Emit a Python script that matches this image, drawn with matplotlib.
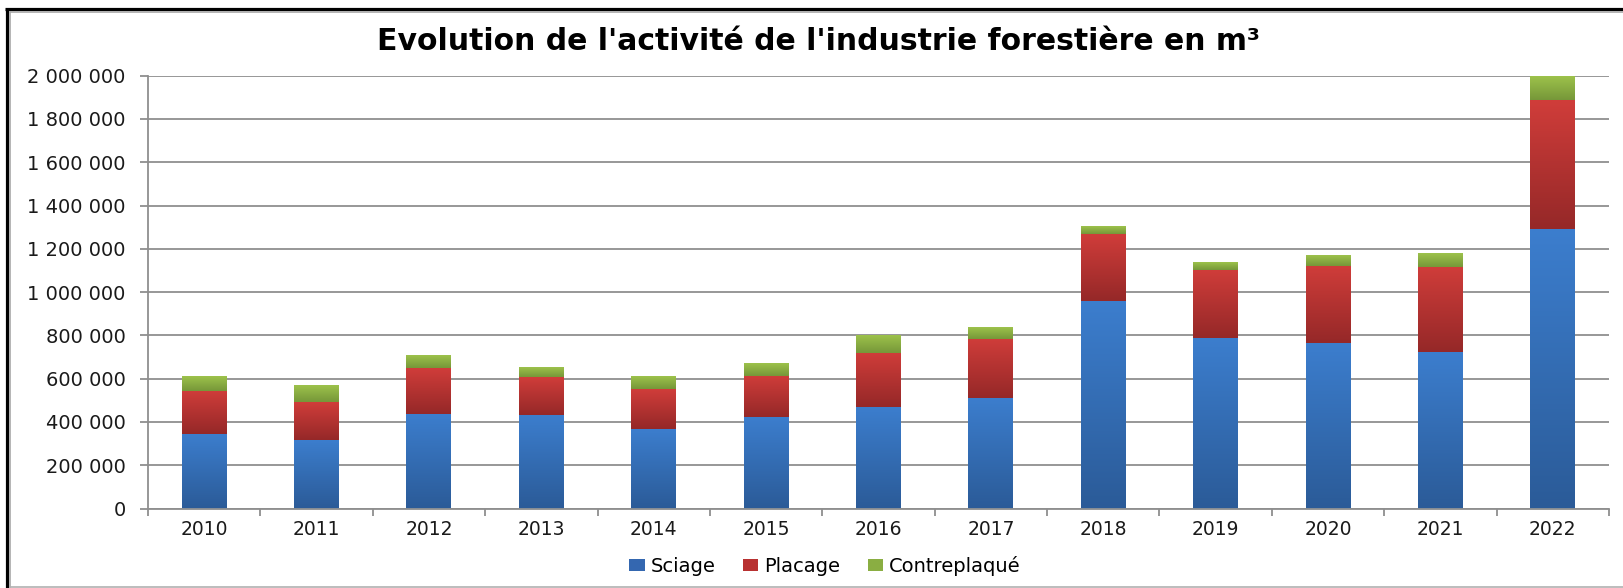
import matplotlib
matplotlib.use("Agg")
import matplotlib.pyplot as plt
import numpy as np
from matplotlib.colors import LinearSegmentedColormap
from matplotlib.lines import Line2D
from matplotlib.patches import Patch
from matplotlib.ticker import FuncFormatter, FixedLocator

years = ["2010", "2011", "2012", "2013", "2014", "2015", "2016",
         "2017", "2018", "2019", "2020", "2021", "2022"]
sciage = [345000, 317000, 437000, 433000, 369000, 421000, 468000,
          510000, 961000, 787000, 764000, 724000, 1292000]
placage = [199000, 174000, 211000, 174000, 181000, 193000, 251000,
           273000, 308000, 315000, 358000, 394000, 596000]
contreplaque = [69000, 76000, 57000, 46000, 59000, 59000, 79000,
                52000, 33000, 33000, 47000, 63000, 107000]
series_names = ["Sciage", "Placage", "Contreplaqué"]
title = "Evolution de l'activité de l'industrie forestière en m³"

# (bottom colour, top colour, legend colour)
styles = [("#2b5b98", "#3c7ece", "#3467b0"),
          ("#952828", "#d03d3a", "#b83131"),
          ("#769739", "#9dc24b", "#8aae42")]

plt.rcParams['font.family'] = ['DejaVu Sans']

W, H = 1623, 588
fig = plt.figure(figsize=(W / 100, H / 100), dpi=100)
ax = fig.add_axes([148 / W, (H - 508.5) / H, (1609 - 148) / W, (508.5 - 75.7) / H])

x = np.arange(len(years))
bottoms = np.zeros(len(years))
grad = np.linspace(0, 1, 256).reshape(-1, 1)
for vals, (c0, c1, _) in zip([sciage, placage, contreplaque], styles):
    bars = ax.bar(x, vals, width=0.4, bottom=bottoms, color=c1, zorder=2, linewidth=0)
    cmap = LinearSegmentedColormap.from_list("g", [c0, c1])
    for r in bars:
        x0, y0 = r.get_x(), r.get_y()
        ax.imshow(grad, extent=(x0, x0 + r.get_width(), y0, y0 + r.get_height()),
                  origin="lower", aspect="auto", cmap=cmap, zorder=2.1,
                  interpolation="bilinear")
    bottoms += np.array(vals)

ax.set_xlim(-0.5, len(years) - 0.5)
ax.set_ylim(0, 2000000)
ax.set_axisbelow(True)

grid_c = "#8f8f8f"
ax.yaxis.set_major_locator(FixedLocator(np.arange(0, 2000001, 200000)))
ax.yaxis.set_major_formatter(FuncFormatter(lambda v, p: f"{int(v):,}".replace(",", " ")))
ax.grid(axis="y", color=grid_c, linewidth=1.3, zorder=0)
for s in ["top", "right"]:
    ax.spines[s].set_visible(False)
ax.spines["left"].set_color(grid_c)
ax.spines["bottom"].set_color(grid_c)
ax.spines["left"].set_linewidth(1.3)
ax.spines["bottom"].set_linewidth(1.3)

ax.set_xticks(x)
ax.set_xticklabels(years)
ax.set_xticks(np.arange(-0.5, len(years), 1), minor=True)
ax.tick_params(axis="x", which="major", length=0, pad=8.5, labelsize=13.5, labelcolor="#1a1a1a")
ax.tick_params(axis="x", which="minor", length=5, width=1.3, color=grid_c)
ax.tick_params(axis="y", length=6, width=1.3, color=grid_c, pad=10, labelsize=14,
               labelcolor="#1a1a1a")

fig.text(819 / W, 1 - 42 / H, title, ha="center", va="center", fontsize=21.5,
         fontweight="bold", color="#000000")

handles = [Patch(facecolor=s[2], edgecolor="none") for s in styles]
fig.legend(handles, series_names, loc="center", bbox_to_anchor=(825 / W, 1 - 566 / H),
           ncol=3, frameon=False, fontsize=14, handlelength=0.8, handleheight=0.55,
           handletextpad=0.3, columnspacing=1.4)

# outer frame
def fl(xs, ys, **kw):
    fig.add_artist(Line2D([v / W for v in xs], [1 - v / H for v in ys],
                          transform=fig.transFigure, **kw))

fl([6.5, 6.5], [9, H], color="black", linewidth=2.3, solid_capstyle="butt")
fl([5, W], [9, 9], color="black", linewidth=2.3, solid_capstyle="butt")
fl([10, 10], [12, 587], color="#a8a8a8", linewidth=1.2)
fl([10, W], [12, 12], color="#a8a8a8", linewidth=1.2)
fl([10, W], [586.5, 586.5], color="#b0b0b0", linewidth=1.2)

fig.savefig("out.png", dpi=100)
